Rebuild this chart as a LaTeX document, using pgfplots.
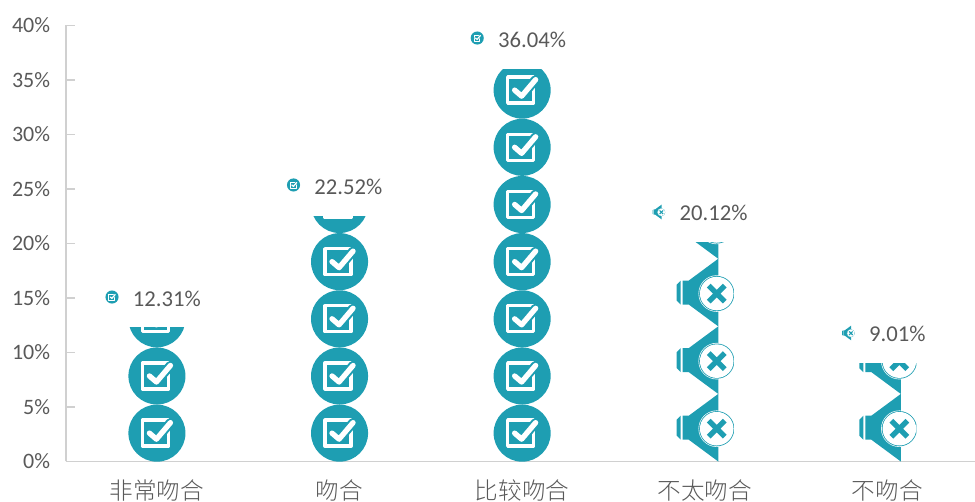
\documentclass[border=0pt]{standalone}
\usepackage{pgfplots}
\pgfplotsset{compat=1.18}
\usepackage{fontspec}
\setmainfont{Carlito}
\newfontfamily\cjk{Noto Sans CJK SC Light}
\definecolor{ic}{RGB}{30,158,178}
\definecolor{tx}{RGB}{89,89,89}
\definecolor{ax}{RGB}{208,208,208}
\newcommand\PP[2]{\pgfpoint{(#1)*0.75pt}{(#2)*0.75pt}}
\newcommand\lw{1}
\newcommand\checkbody{%
  \pgfsetfillcolor{ic}%
  \pgfpathcircle{\pgfpointorigin}{21.4pt}\pgfusepath{fill}%
  \pgfsetstrokecolor{white}\pgfsetlinewidth{\lw*2.5pt}\pgfsetroundjoin
  \pgfpathmoveto{\PP{-14.5}{13}}\pgfpathlineto{\PP{11.5}{13}}\pgfpathlineto{\PP{11.5}{-13}}\pgfpathlineto{\PP{-14.5}{-13}}\pgfpathclose
  \pgfusepath{stroke}%
  \pgfsetroundcap
  \pgfsetstrokecolor{ic}\pgfsetlinewidth{\lw*7pt}%
  \pgfpathmoveto{\PP{-7.5}{0}}\pgfpathlineto{\PP{-0.5}{-6}}\pgfpathlineto{\PP{13.5}{10.5}}\pgfusepath{stroke}%
  \pgfsetstrokecolor{white}\pgfsetlinewidth{\lw*4pt}%
  \pgfpathmoveto{\PP{-7.5}{0}}\pgfpathlineto{\PP{-0.5}{-6}}\pgfpathlineto{\PP{13.5}{10.5}}\pgfusepath{stroke}%
}
\newcommand\spkbody{%
  \pgfsetfillcolor{ic}%
  \pgfpathmoveto{\PP{-28}{8}}\pgfpathlineto{\PP{-24}{12}}\pgfpathlineto{\PP{-24}{-12}}\pgfpathlineto{\PP{-28}{-8}}\pgfpathclose\pgfusepath{fill}%
  \pgfpathmoveto{\PP{-22}{12}}\pgfpathlineto{\PP{-16}{12}}\pgfpathlineto{\PP{13.5}{33.8}}\pgfpathlineto{\PP{13.5}{-33.8}}\pgfpathlineto{\PP{-16}{-12}}\pgfpathlineto{\PP{-22}{-12}}\pgfpathclose\pgfusepath{fill}%
  \pgfsetfillcolor{white}\pgfpathcircle{\PP{12}{-1}}{13.7pt}\pgfusepath{fill}%
  \pgfsetfillcolor{ic}\pgfpathcircle{\PP{12}{-1}}{13.2pt}\pgfusepath{fill}%
  \pgfsetfillcolor{white}\pgfpathcircle{\PP{12}{-1}}{12.6pt}\pgfusepath{fill}%
  \pgfsetstrokecolor{ic}\pgfsetlinewidth{\lw*4pt}\pgfsetbuttcap
  \pgfpathmoveto{\PP{4}{-9}}\pgfpathlineto{\PP{20}{7}}\pgfpathmoveto{\PP{4}{7}}\pgfpathlineto{\PP{20}{-9}}\pgfusepath{stroke}%
}
\pgfdeclareplotmark{check}{\begin{pgfscope}\checkbody\end{pgfscope}}
\pgfdeclareplotmark{spk}{\begin{pgfscope}%
  \pgfpathrectangle{\PP{-40}{-40}}{\PP{69}{80}}\pgfusepath{clip}\spkbody\end{pgfscope}}
\pgfdeclareplotmark{checks}{\begin{pgfscope}\pgftransformscale{0.23}\renewcommand\lw{0.23}\checkbody\end{pgfscope}}
\pgfdeclareplotmark{spks}{\begin{pgfscope}\pgftransformscale{0.22}\renewcommand\lw{0.22}\spkbody\end{pgfscope}}
\pgfdeclareplotmark{checkA}{\begin{pgfscope}\pgfpathrectangle{\PP{-40}{-40}}{\PP{80}{31.5}}\pgfusepath{clip}\checkbody\end{pgfscope}}
\pgfdeclareplotmark{checkB}{\begin{pgfscope}\pgfpathrectangle{\PP{-40}{-40}}{\PP{80}{28.4}}\pgfusepath{clip}\checkbody\end{pgfscope}}
\pgfdeclareplotmark{checkC}{\begin{pgfscope}\pgfpathrectangle{\PP{-40}{-40}}{\PP{80}{61}}\pgfusepath{clip}\checkbody\end{pgfscope}}
\pgfdeclareplotmark{spkA}{\begin{pgfscope}%
  \pgfpathrectangle{\PP{-40}{-40}}{\PP{69}{22}}\pgfusepath{clip}\spkbody\end{pgfscope}}
\pgfdeclareplotmark{spkB}{\begin{pgfscope}%
  \pgfpathrectangle{\PP{-40}{-40}}{\PP{69}{37}}\pgfusepath{clip}\spkbody\end{pgfscope}}
\begin{document}
\begin{tikzpicture}
\useasboundingbox (-49.5pt,-30.375pt) rectangle (681.75pt,346.125pt);
\begin{axis}[
  at={(0,0)},anchor=south west,
  scale only axis,width=681.75pt,height=327pt,
  xmin=-0.498,xmax=4.48,ymin=0,ymax=40,
  clip=false,
  axis lines*=left,
  axis line style={-,draw=ax,line width=1.1pt},
  xtick={0,1,2,3,4},
  xticklabels={非常吻合,吻合,比较吻合,不太吻合,不吻合},
  x tick style={draw=none},
  xticklabel style={font=\cjk\fontsize{17.7}{20}\selectfont,text=tx,anchor=center,yshift=-22pt},
  ytick={0,5,10,15,20,25,30,35,40},
  yticklabel={\pgfmathprintnumber{\tick}\%},
  /pgf/number format/assume math mode=true,
  y tick style={draw=ax,line width=0.9pt},
  tick align=inside,
  major tick length=6.5pt,
  ytick pos=left,
  yticklabel style={font=\fontsize{16.5}{20}\selectfont,text=tx,inner sep=0pt,xshift=-11.75pt},
]
\addplot[only marks,mark=check] coordinates {(0,2.6)(0,7.845)};
\addplot[only marks,mark=checkA] coordinates {(0,13.09)};
\addplot[only marks,mark=check] coordinates {(1,2.6)(1,7.845)(1,13.09)(1,18.335)};
\addplot[only marks,mark=checkB] coordinates {(1,23.58)};
\addplot[only marks,mark=check] coordinates {(2,2.6)(2,7.845)(2,13.09)(2,18.335)(2,23.58)(2,28.825)};
\addplot[only marks,mark=checkC] coordinates {(2,34.07)};
\addplot[only marks,mark=spk] coordinates {(3,3.1)(3,9.3)(3,15.5)};
\addplot[only marks,mark=spkA] coordinates {(3,21.7)};
\addplot[only marks,mark=spk] coordinates {(4,3.1)};
\addplot[only marks,mark=spkB] coordinates {(4,9.3)};
\addplot[only marks,mark=checks,point meta=explicit symbolic,nodes near coords,
  nodes near coords style={anchor=west,xshift=15.5pt,yshift=-1.2pt,inner sep=0pt,text=tx,font=\fontsize{17}{20}\selectfont}]
  coordinates {(-0.246,15.09)[12.31\%](0.748,25.37)[22.52\%](1.754,38.85)[36.04\%]};
\addplot[only marks,mark=spks,point meta=explicit symbolic,nodes near coords,
  nodes near coords style={anchor=west,xshift=15.5pt,yshift=-0.5pt,inner sep=0pt,text=tx,font=\fontsize{17}{20}\selectfont}]
  coordinates {(2.748,22.89)[20.12\%](3.786,11.79)[9.01\%]};
\end{axis}
\end{tikzpicture}
\end{document}
